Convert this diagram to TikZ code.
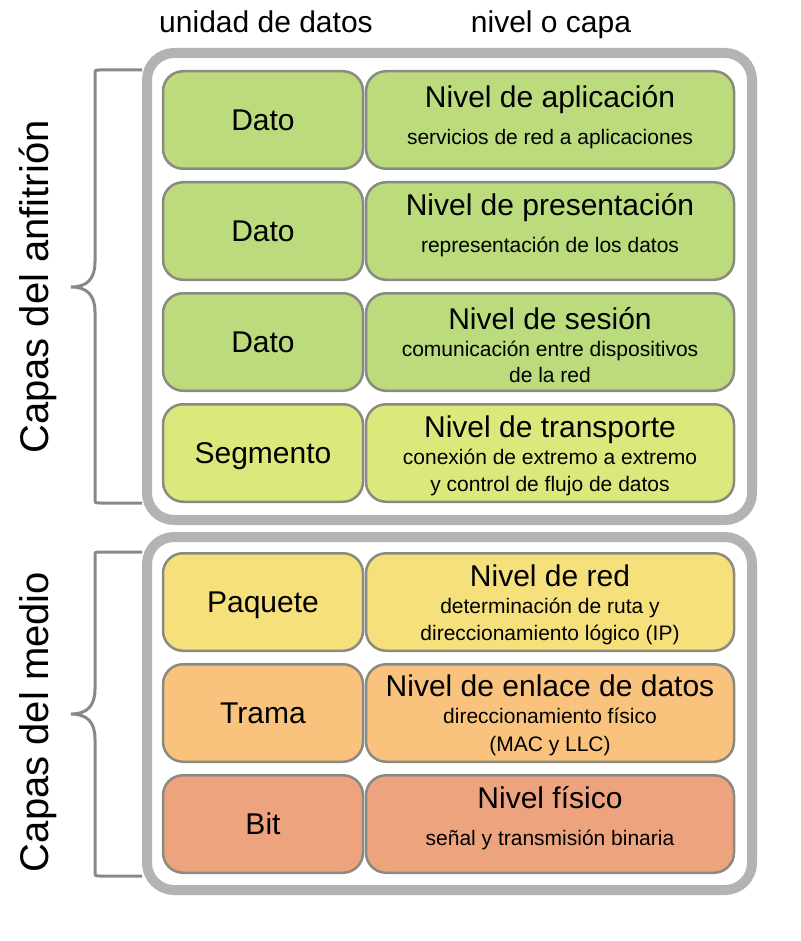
\documentclass[tikz,border=0pt]{standalone}
\usepackage{fontspec}
\setmainfont{Liberation Sans}
\usetikzlibrary{positioning}

\definecolor{verde}{HTML}{BBDB7D}
\definecolor{lima}{HTML}{DDE87C}
\definecolor{amarillo}{HTML}{F5E07C}
\definecolor{naranja}{HTML}{F9C37D}
\definecolor{salmon}{HTML}{EEA37F}
\definecolor{borde}{HTML}{8A8A80}
\definecolor{marco}{HTML}{B3B3B3}
\definecolor{trazo}{HTML}{888888}

\begin{document}
\begin{tikzpicture}[x=1pt, y=-1pt,
                    grupo/.style={draw=marco, line width=10pt, rounded corners=27pt},
                    llave/.style={draw=trazo, line width=3pt},
                    caja/.style={draw=borde, line width=2.5pt, rounded corners=20pt,
                                 minimum height=97.5pt, inner sep=0pt},
                    unidad/.style={caja, minimum width=200pt, text height=21.5pt, text depth=0pt,
                                   font=\fontsize{30}{36}\selectfont},
                    capa/.style={caja, minimum width=368pt},
                    titulo/.style={anchor=base, inner sep=0pt, font=\fontsize{30}{36}\selectfont},
                    detalle/.style={anchor=base, inner sep=0pt, font=\fontsize{21}{25}\selectfont},
                    grande/.style={anchor=base, inner sep=0pt, rotate=90, font=\fontsize{40}{48}\selectfont}]
  \useasboundingbox (0,0) rectangle (800,941);

  % Column headers
  \node[titulo] (hu) at (266,33) {unidad de datos};
  \node[titulo] (hn) at (551,33) {nivel o capa};

  % Host layers
  \draw[grupo] (147,53) rectangle (752,520);
  \draw[llave] (142,70) -- (100,70) .. controls (95,70) .. (95,75) -- (95,262)
    .. controls (95,279) and (87,287) .. (71,287)
    .. controls (87,287) and (95,295) .. (95,312) -- (95,498)
    .. controls (95,503) .. (100,503) -- (142,503);
  \node[grande] (ga) at (48,287) {Capas del anfitrión};

  \node[unidad, fill=verde] (u1) at (263,120) {Dato};
  \node[capa, fill=verde] (c1) at (550,120) {};
  \node[titulo] (t1) at (550,108) {Nivel de aplicación};
  \node[detalle] (d1) at (550,145) {servicios de red a aplicaciones};

  \node[unidad, fill=verde] (u2) at (263,231) {Dato};
  \node[capa, fill=verde] (c2) at (550,231) {};
  \node[titulo] (t2) at (550,215) {Nivel de presentación};
  \node[detalle] (d2) at (550,252) {representación de los datos};

  \node[unidad, fill=verde] (u3) at (263,342) {Dato};
  \node[capa, fill=verde] (c3) at (550,342) {};
  \node[titulo] (t3) at (550,329) {Nivel de sesión};
  \node[detalle] (d3a) at (550,356) {comunicación entre dispositivos};
  \node[detalle] (d3b) at (550,382) {de la red};

  \node[unidad, fill=lima] (u4) at (263,453) {Segmento};
  \node[capa, fill=lima] (c4) at (550,453) {};
  \node[titulo] (t4) at (550,437) {Nivel de transporte};
  \node[detalle] (d4a) at (550,464) {conexión de extremo a extremo};
  \node[detalle] (d4b) at (550,491) {y control de flujo de datos};

  % Medium layers
  \draw[grupo] (147,537) rectangle (752,890);
  \draw[llave] (142,552) -- (100,552) .. controls (95,552) .. (95,557) -- (95,689)
    .. controls (95,706) and (87,714) .. (71,714)
    .. controls (87,714) and (95,722) .. (95,739) -- (95,871)
    .. controls (95,876) .. (100,876) -- (142,876);
  \node[grande] (gm) at (48,722) {Capas del medio};

  \node[unidad, fill=amarillo] (u5) at (263,602) {Paquete};
  \node[capa, fill=amarillo] (c5) at (550,602) {};
  \node[titulo] (t5) at (550,586) {Nivel de red};
  \node[detalle] (d5a) at (550,613) {determinación de ruta y};
  \node[detalle] (d5b) at (550,640) {direccionamiento lógico (IP)};

  \node[unidad, fill=naranja] (u6) at (263,713) {Trama};
  \node[capa, fill=naranja] (c6) at (550,713) {};
  \node[titulo] (t6) at (550,696) {Nivel de enlace de datos};
  \node[detalle] (d6a) at (550,723) {direccionamiento físico};
  \node[detalle] (d6b) at (550,751) {(MAC y LLC)};

  \node[unidad, fill=salmon] (u7) at (263,824) {Bit};
  \node[capa, fill=salmon] (c7) at (550,824) {};
  \node[titulo] (t7) at (550,808) {Nivel físico};
  \node[detalle] (d7) at (550,845) {señal y transmisión binaria};
\end{tikzpicture}
\end{document}
